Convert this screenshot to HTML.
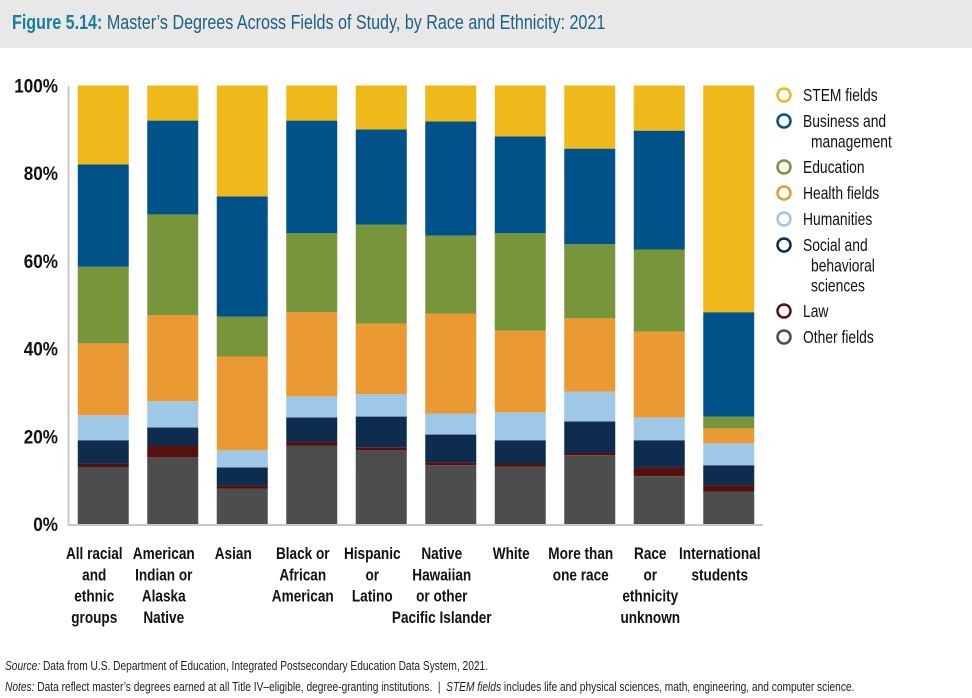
<!DOCTYPE html>
<html><head><meta charset="utf-8">
<style>
body{margin:0;width:972px;height:695px;background:#fff;overflow:hidden;font-family:"Liberation Sans",sans-serif;}
#title{position:absolute;left:0;top:0;width:972px;height:48px;background:#e8e8e9;}
#title span{position:absolute;left:12px;top:12px;font-size:20px;color:#1d5f83;white-space:nowrap;transform:scaleX(0.805);transform-origin:0 0;}
#notes{position:absolute;left:5px;top:656px;font-size:12.5px;color:#222;line-height:21px;white-space:nowrap;transform:scaleX(0.815);transform-origin:0 0;}
</style></head>
<body>
<div id="title"><span><b style="color:#1a7d9a">Figure 5.14:</b> Master’s Degrees Across Fields of Study, by Race and Ethnicity: 2021</span></div>
<svg id="chart" width="972" height="650" style="position:absolute;left:0;top:0"></svg>
<div id="notes">
<div><i>Source:</i> Data from U.S. Department of Education, Integrated Postsecondary Education Data System, 2021.</div>
<div><i>Notes:</i> Data reflect master’s degrees earned at all Title IV–eligible, degree-granting institutions. &nbsp;|&nbsp; <i>STEM fields</i> includes life and physical sciences, math, engineering, and computer science.</div>
</div>
<script>
const categories=[["All racial","and","ethnic","groups"],["American","Indian or","Alaska","Native"],["Asian"],["Black or","African","American"],["Hispanic","or","Latino"],["Native","Hawaiian","or other","Pacific Islander"],["White"],["More than","one race"],["Race","or","ethnicity","unknown"],["International","students"]];
const seriesNames=["Other fields","Law","Social and behavioral sciences","Humanities","Health fields","Education","Business and management","STEM fields"];
const other=[13.0,15.2,8.1,17.9,16.8,13.4,13.1,15.7,10.9,7.4];
const law=[0.7,2.7,0.7,0.9,0.7,0.7,0.7,0.6,2.0,1.4];
const social=[5.4,4.1,4.1,5.5,7.0,6.3,5.3,7.1,6.2,4.6];
const humanities=[5.7,6.0,3.9,4.8,5.1,4.8,6.4,6.8,5.2,5.0];
const health=[16.4,19.6,21.4,19.2,16.1,22.8,18.6,16.7,19.6,3.4];
const education=[17.5,23.0,9.1,18.0,22.6,17.8,22.2,16.9,18.7,2.7];
const business=[23.3,21.4,27.4,25.7,21.7,26.0,22.1,21.8,27.1,23.8];
const stem=[18.0,8.0,25.3,8.0,10.0,8.2,11.6,14.4,10.3,51.7];
const yTicks=[0,20,40,60,80,100];
const legendLabels=[["STEM fields"],["Business and","management"],["Education"],["Health fields"],["Humanities"],["Social and","behavioral","sciences"],["Law"],["Other fields"]];

const series=[other,law,social,humanities,health,education,business,stem];
const colors=["#4d4d4d","#561010","#0d2c4e","#9fc8e7","#eb9933","#77963c","#005289","#f0b91b"];
const legendColors=["#f0b91b","#005289","#77963c","#eb9933","#9fc8e7","#0d2c4e","#561010","#4d4d4d"];
const NS="http://www.w3.org/2000/svg";
const svg=document.getElementById("chart");
const y0=524,y1=85.5;
const yScale=v=>y0-(v/100)*(y0-y1);
const bandStart=68.5,step=69.5,barW=51;
const xCenter=i=>bandStart+step*(i+0.5);
function mk(tag,attrs){const e=document.createElementNS(NS,tag);for(const k in attrs)e.setAttribute(k,attrs[k]);svg.appendChild(e);return e;}
function txt(x,y,s,attrs,sx){const t=mk("text",Object.assign({x:0,y:0,transform:`translate(${x},${y}) scale(${sx||0.8},1)`},attrs));t.textContent=s;return t;}
for(let i=0;i<categories.length;i++){
  let cum=0;
  for(let s=0;s<series.length;s++){
    const v=series[s][i];
    const r=mk("rect",{x:xCenter(i)-barW/2,y:yScale(cum+v),width:barW,height:yScale(cum)-yScale(cum+v),fill:colors[s]});
    
    
    cum+=v;
  }
}
const ax=mk("path",{d:`M68.5 86 V${y0+1} H763`,stroke:"#c8c8c8","stroke-width":2,fill:"none"});


yTicks.forEach(t=>{
  const tx=txt(58,yScale(t)+7,t+"%",{"text-anchor":"end","font-size":19,"font-weight":"bold",fill:"#111"},0.9);
  
  
});
categories.forEach((lines,i)=>{
  lines.forEach((ln,j)=>{
    const tx=txt(xCenter(i)-9,559+j*21.3,ln,{"text-anchor":"middle","font-size":17,"font-weight":"bold",fill:"#111"});
    
    
  });
});
let ly=95;
legendLabels.forEach((lines,k)=>{
  const c=mk("circle",{cx:784,cy:ly,r:6.5,fill:"none",stroke:legendColors[k],"stroke-width":2.5});
  
  
  lines.forEach((ln,j)=>{
    const tx=txt(j==0?803:811,ly+6+j*20.3,ln,{"font-size":18,fill:"#111"},0.77);
    
    
  });
  ly+=lines.length==1?26:(lines.length==2?46:66);
});
</script>
</body></html>
